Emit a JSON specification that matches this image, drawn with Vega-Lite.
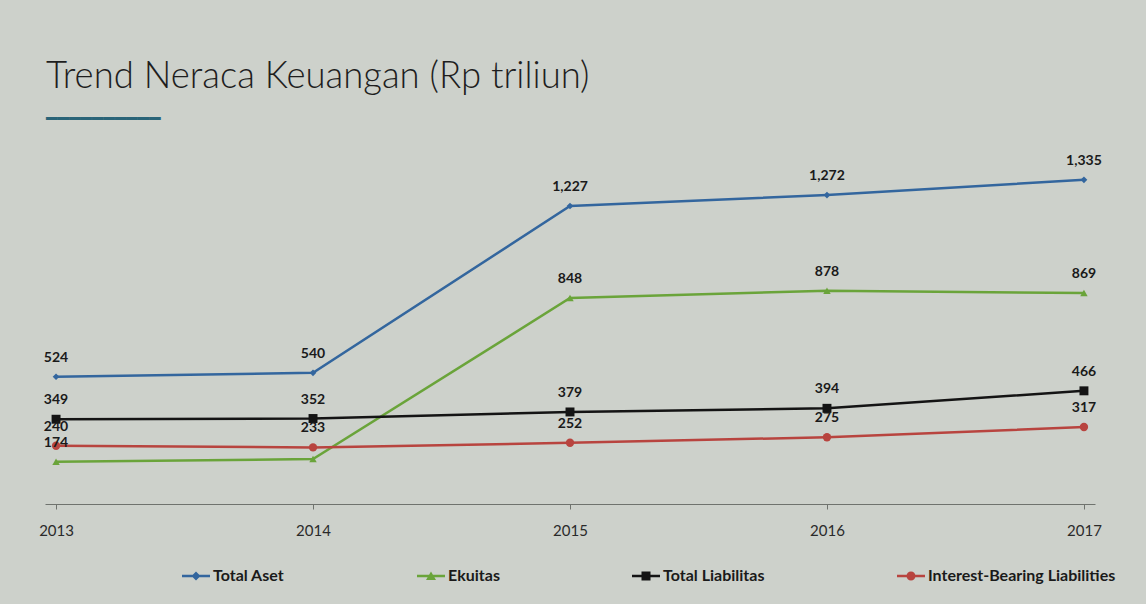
{
  "$schema": "https://vega.github.io/schema/vega-lite/v6.json",
  "width": 1050,
  "height": 340,
  "autosize": {"type": "none"},
  "padding": {"left": 45, "top": 164, "right": 51, "bottom": 100},
  "background": "#cdd1cb",
  "view": {"stroke": null},
  "title": {
    "text": "Trend Neraca Keuangan (Rp triliun)",
    "subtitle": "━━━━━━━━━━",
    "anchor": "start",
    "frame": "group",
    "font": "Lato",
    "fontSize": 36.5,
    "fontWeight": 300,
    "color": "#1e1e1e",
    "subtitleFont": "DejaVu Sans Mono",
    "subtitleFontSize": 19,
    "subtitleColor": "#2a6478",
    "subtitlePadding": 14,
    "offset": 25,
    "dx": 1
  },
  "data": {
    "values": [
      {"year": "2013", "series": "Total Aset", "value": 524},
      {"year": "2014", "series": "Total Aset", "value": 540},
      {"year": "2015", "series": "Total Aset", "value": 1227},
      {"year": "2016", "series": "Total Aset", "value": 1272},
      {"year": "2017", "series": "Total Aset", "value": 1335},
      {"year": "2013", "series": "Ekuitas", "value": 174},
      {"year": "2014", "series": "Ekuitas", "value": 185},
      {"year": "2015", "series": "Ekuitas", "value": 848},
      {"year": "2016", "series": "Ekuitas", "value": 878},
      {"year": "2017", "series": "Ekuitas", "value": 869},
      {"year": "2013", "series": "Total Liabilitas", "value": 349},
      {"year": "2014", "series": "Total Liabilitas", "value": 352},
      {"year": "2015", "series": "Total Liabilitas", "value": 379},
      {"year": "2016", "series": "Total Liabilitas", "value": 394},
      {"year": "2017", "series": "Total Liabilitas", "value": 466},
      {"year": "2013", "series": "Interest-Bearing Liabilities", "value": 240},
      {"year": "2014", "series": "Interest-Bearing Liabilities", "value": 233},
      {"year": "2015", "series": "Interest-Bearing Liabilities", "value": 252},
      {"year": "2016", "series": "Interest-Bearing Liabilities", "value": 275},
      {"year": "2017", "series": "Interest-Bearing Liabilities", "value": 317}
    ]
  },
  "encoding": {
    "x": {
      "field": "year",
      "type": "ordinal",
      "scale": {"type": "point", "padding": 0.043},
      "axis": {
        "title": null,
        "labelAngle": 0,
        "domainColor": "#6f736e",
        "domainWidth": 1,
        "tickColor": "#6f736e",
        "tickSize": 5,
        "labelPadding": 14,
        "labelFont": "Lato",
        "labelFontSize": 15,
        "labelColor": "#2a2a2a",
        "grid": false
      }
    },
    "y": {
      "field": "value",
      "type": "quantitative",
      "scale": {"domain": [0, 1400]},
      "axis": null
    },
    "color": {
      "field": "series",
      "type": "nominal",
      "scale": {
        "domain": ["Total Aset", "Ekuitas", "Total Liabilitas", "Interest-Bearing Liabilities"],
        "range": ["#33669e", "#6aa43a", "#141414", "#b8443f"]
      },
      "legend": {
        "orient": "none",
        "legendX": 143,
        "legendY": 404,
        "direction": "horizontal",
        "columns": 4,
        "columnPadding": 132,
        "padding": 0,
        "title": null,
        "labelFont": "Lato",
        "labelFontSize": 16,
        "labelFontWeight": "bold",
        "labelColor": "#1a1a1a",
        "labelOffset": 9,
        "labelLimit": 400,
        "symbolSize": 100,
        "symbolStrokeWidth": 0,
        "encode": {
          "symbols": {
            "update": {
              "shape": {"signal": "datum.value === 'Total Aset' ? 'M-2.8,-0.25H2.8V0.25H-2.8Z M0,-0.9L0.9,0L0,0.9L-0.9,0Z' : datum.value === 'Ekuitas' ? 'M-2.8,-0.25H2.8V0.25H-2.8Z M0,-0.9L1,0.8L-1,0.8Z' : datum.value === 'Total Liabilitas' ? 'M-2.8,-0.25H2.8V0.25H-2.8Z M-0.9,-0.9H0.9V0.9H-0.9Z' : 'M-2.8,-0.25H2.8V0.25H-2.8Z M-0.9,0A0.9,0.9 0 1,1 0.9,0A0.9,0.9 0 1,1 -0.9,0Z'"},
              "fill": {"signal": "scale('color', datum.value)"},
              "fillOpacity": {"value": 1},
              "opacity": {"value": 1}
            }
          }
        }
      }
    }
  },
  "layer": [
    {"mark": {"type": "line", "strokeWidth": 2.5}},
    {
      "transform": [{"filter": "datum.series === 'Total Aset'"}],
      "mark": {"type": "point", "filled": true, "opacity": 1, "shape": "diamond", "size": 45}
    },
    {
      "transform": [{"filter": "datum.series === 'Ekuitas'"}],
      "mark": {"type": "point", "filled": true, "opacity": 1, "shape": "triangle-up", "size": 55}
    },
    {
      "transform": [{"filter": "datum.series === 'Total Liabilitas'"}],
      "mark": {"type": "point", "filled": true, "opacity": 1, "shape": "square", "size": 80}
    },
    {
      "transform": [{"filter": "datum.series === 'Interest-Bearing Liabilities'"}],
      "mark": {"type": "point", "filled": true, "opacity": 1, "shape": "circle", "size": 70}
    },
    {
      "transform": [{"filter": "!(datum.series === 'Ekuitas' && datum.year === '2014')"}],
      "mark": {"type": "text", "dy": -19, "font": "Lato", "fontWeight": "bold", "fontSize": 14},
      "encoding": {
        "text": {"field": "value", "type": "quantitative", "format": ","},
        "color": {"value": "#1a1a1a"}
      }
    }
  ]
}
